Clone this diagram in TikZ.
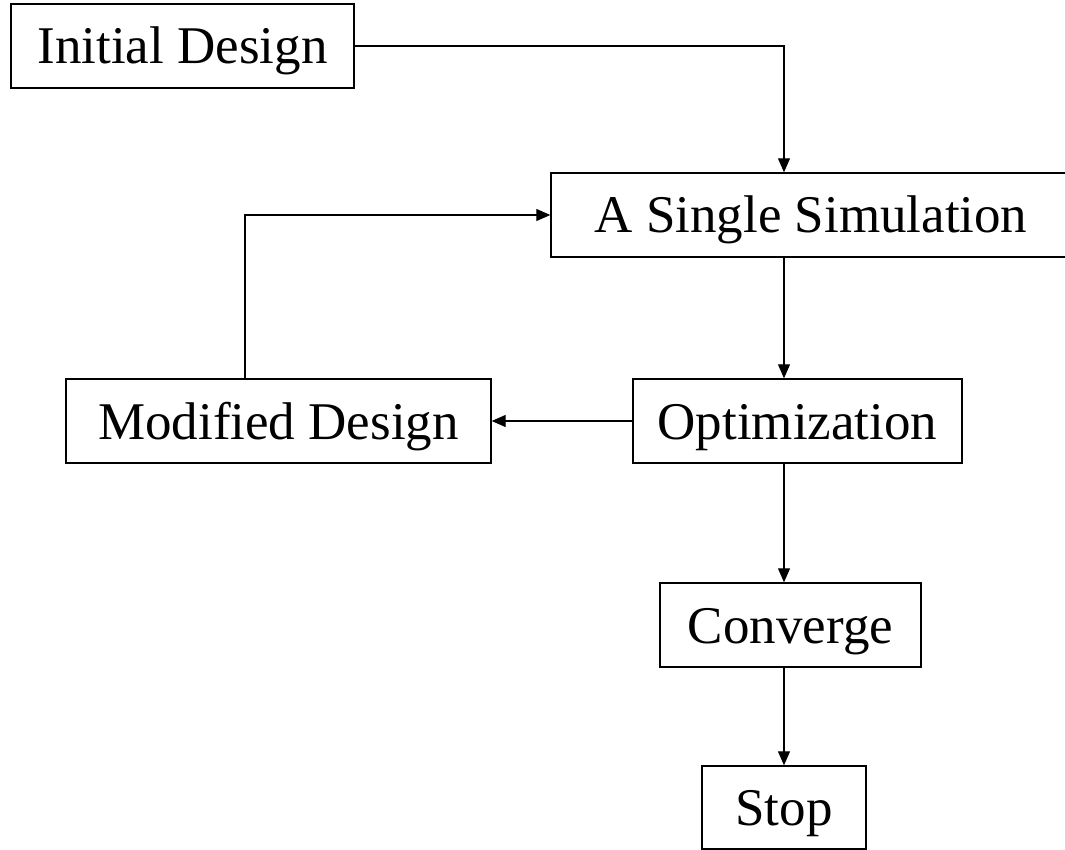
\documentclass[tikz,border=0pt]{standalone}
\usepackage{fontspec}
\setmainfont{Liberation Serif}
\usetikzlibrary{arrows.meta}
\begin{document}
\begin{tikzpicture}[x=1pt,y=-1pt,
  stepbox/.style={draw, line width=1.4pt, inner sep=0pt, minimum height=84pt,
    text height=36pt, text depth=0pt, font=\fontsize{53}{60}\selectfont},
  flow/.style={line width=1.1pt, -{Triangle[length=14pt,width=12pt]}}]
\clip (0,0) rectangle (1065,850);

% process boxes
\node[stepbox, minimum width=343pt] (init) at (182.5,46) {Initial Design};
\node[stepbox, minimum width=520pt] (sim)  at (811,215) {A Single Simulation};
\node[stepbox, minimum width=425pt] (mod)  at (278.5,421) {Modified Design};
\node[stepbox, minimum width=329pt] (opt)  at (797.5,421) {Optimization};
\node[stepbox, minimum width=261pt] (conv) at (790.5,625) {Converge};
\node[stepbox, minimum width=164pt, minimum height=83pt] (stop) at (784,807.5) {Stop};

% guide lines for the vertical runs
\coordinate (spine) at (784,0);
\coordinate (back) at (245,0);

% connectors
\draw[flow] (init.east) -| (sim.north -| spine);
\draw[flow] (mod.north -| back) |- (sim.west);
\draw[flow] (sim.south -| spine) -- (opt.north -| spine);
\draw[flow] (opt.west) -- (mod.east);
\draw[flow] (opt.south -| spine) -- (conv.north -| spine);
\draw[flow] (conv.south -| spine) -- (stop.north -| spine);
\end{tikzpicture}
\end{document}
